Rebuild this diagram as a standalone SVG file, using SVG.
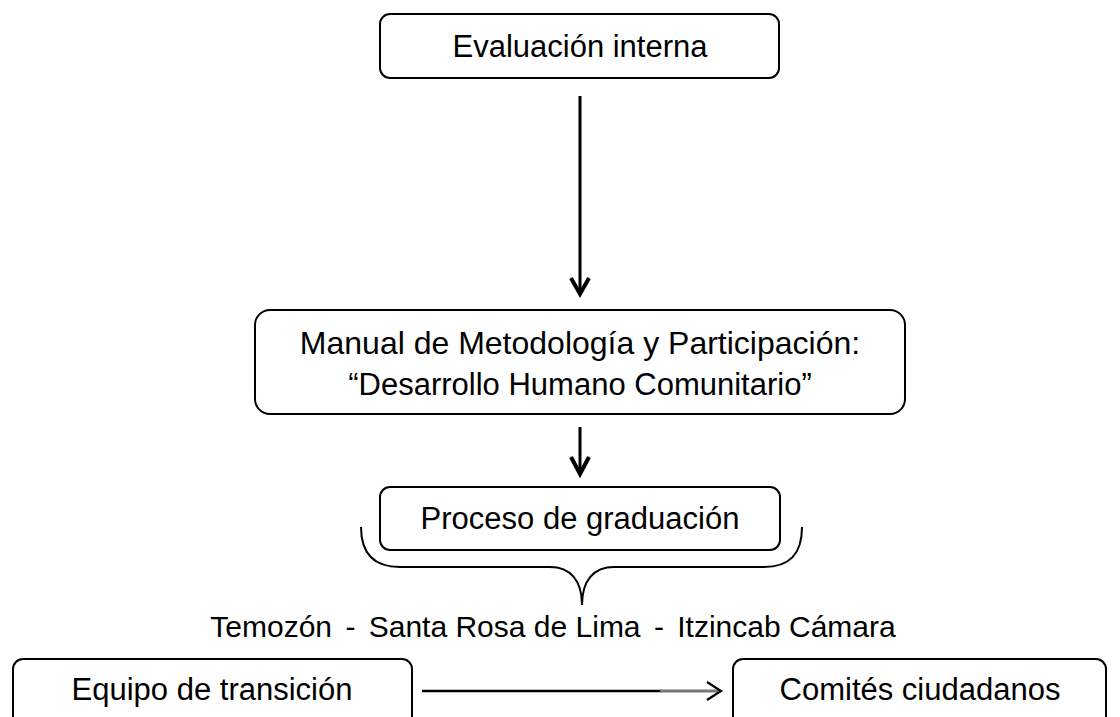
<svg xmlns="http://www.w3.org/2000/svg" width="1120" height="717" viewBox="0 0 1120 717">
<defs>
<style>
.box{fill:#fff;stroke:#000;stroke-width:2}
.t{font-family:"Liberation Sans",Arial,sans-serif;font-size:31px;fill:#000;text-anchor:middle}
.c{fill:none;stroke:#000;stroke-width:3}
.head{fill:none;stroke:#000;stroke-width:4;stroke-linecap:butt;stroke-linejoin:miter}
</style>
</defs>
<rect width="1120" height="717" fill="#fff"/>
<g id="connectors">
<line class="c" x1="580" y1="96" x2="580" y2="294"/>
<path class="head" d="M571 278 L580 294 L589 278"/>
<line class="c" x1="580" y1="427" x2="580" y2="474"/>
<path class="head" d="M571 457 L580 474 L589 457"/>
<line x1="422" y1="691" x2="662" y2="691" stroke="#000" stroke-width="2.5"/>
<line x1="660" y1="691" x2="718" y2="691" stroke="#777" stroke-width="3"/>
<path d="M707 682 L721 691 L707 700" fill="none" stroke="#000" stroke-width="2.2"/>
</g>
<g id="n1">
<rect class="box" x="380" y="14" width="399" height="64" rx="10"/>
<text class="t" x="580" y="57">Evaluación interna</text>
</g>
<g id="n2">
<rect class="box" x="255" y="310" width="650" height="104" rx="15"/>
<text class="t" x="580" y="354" style="font-size:32px">Manual de Metodología y Participación:</text>
<text class="t" x="580" y="395">“Desarrollo Humano Comunitario”</text>
</g>
<g id="n3">
<rect class="box" x="380" y="487" width="400" height="63" rx="10"/>
<text class="t" x="580" y="529">Proceso de graduación</text>
</g>
<g id="brace">
<path d="M361 527 C361 555 375 567 400 567 L550 567 C570 567 582 580 582 605 C582 580 594 567 614 567 L764 567 C789 567 802 555 802 527" fill="none" stroke="#000" stroke-width="2"/>
</g>
<g id="places">
<text class="t" x="553" y="637" style="font-size:30px">Temozón <tspan dx="5">-</tspan><tspan dx="5"> Santa Rosa de Lima </tspan><tspan dx="5">-</tspan><tspan dx="5"> Itzincab Cámara</tspan></text>
</g>
<g id="n4">
<rect class="box" x="13" y="659" width="399" height="90" rx="10"/>
<text class="t" x="212" y="700">Equipo de transición</text>
</g>
<g id="n5">
<rect class="box" x="733" y="659" width="373" height="90" rx="10"/>
<text class="t" x="920" y="700">Comités ciudadanos</text>
</g>
</svg>
